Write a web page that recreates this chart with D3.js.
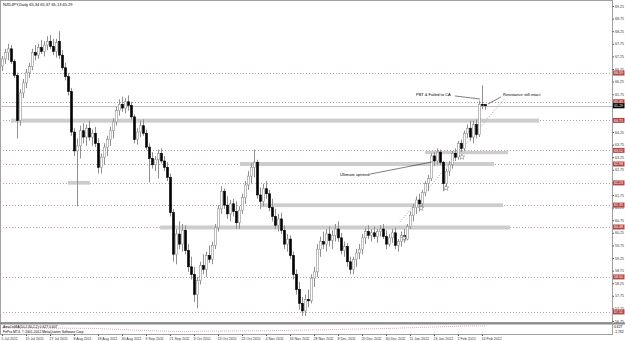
<!DOCTYPE html>
<html>
<head>
<meta charset="utf-8">
<script src="https://cdn.jsdelivr.net/npm/d3@7"></script>
<style>
body { margin: 0; background: #fff; }
svg { display: block; font-family: "Liberation Sans", "DejaVu Sans", sans-serif; }
</style>
</head>
<body>
<div id="vis"></div>
<script>
// NZDJPY daily, one bar per trading day from 5 Jul 2011
const opens = [
  66.87, 67.15, 67.40, 67.55, 67.05, 66.50, 64.70, 65.80, 66.20, 66.60,
  66.85, 67.40, 67.30, 67.60, 67.45, 67.70, 67.85, 67.65, 67.45, 67.85,
  67.30, 66.80, 66.45, 65.85, 64.25, 63.50, 63.70, 64.30, 64.05, 64.40,
  64.05, 64.20, 63.80, 62.85, 63.25, 63.65, 63.95, 64.30, 64.65, 65.10,
  65.35, 65.20, 65.45, 65.30, 64.85, 63.95, 64.25, 64.50, 64.20, 63.65,
  63.20, 62.95, 63.15, 63.40, 63.10, 62.85, 62.45, 61.05, 59.40, 60.20,
  59.80, 60.35, 59.55, 58.90, 58.60, 57.80, 58.35, 58.95, 58.80, 59.35,
  59.20, 59.75, 60.45, 61.20, 61.90, 61.35, 61.00, 61.40, 61.10, 60.65,
  61.15, 61.65, 62.15, 62.50, 62.85, 63.05, 61.75, 61.50, 62.00, 61.80,
  61.25, 60.90, 60.55, 60.80, 60.35, 59.80, 60.00, 59.35, 58.60, 58.00,
  57.45, 57.15, 57.60, 57.55, 58.45, 58.70, 59.60, 59.90, 59.80, 60.20,
  59.95, 60.15, 60.40, 60.05, 59.55, 59.70, 59.10, 58.80, 59.20, 59.45,
  59.60, 60.05, 60.30, 60.15, 60.25, 60.10, 60.30, 60.40, 60.10, 59.80,
  60.05, 60.25, 59.75, 59.90, 60.15, 60.00, 60.50, 60.95, 61.25, 61.55,
  61.40, 61.85, 62.20, 62.40, 63.30, 63.10, 63.45, 63.05, 62.20, 62.70,
  62.95, 63.40, 63.25, 63.80, 63.60, 64.20, 64.40, 64.05, 64.55, 64.15,
  65.35, 65.34
];
const highs = [
  67.27, 67.55, 67.75, 67.70, 67.15, 66.60, 65.95, 66.35, 66.75, 67.00,
  67.55, 67.70, 67.75, 67.90, 67.85, 68.05, 68.10, 67.95, 67.95, 68.25,
  67.50, 67.00, 66.60, 66.00, 64.40, 64.00, 64.50, 64.60, 64.55, 64.70,
  64.35, 64.45, 64.00, 63.40, 63.80, 64.10, 64.45, 64.80, 65.25, 65.55,
  65.65, 65.60, 65.70, 65.45, 64.95, 64.40, 64.70, 64.75, 64.35, 63.80,
  63.45, 63.30, 63.55, 63.60, 63.30, 63.05, 62.60, 61.20, 60.40, 60.70,
  60.60, 60.55, 59.80, 59.30, 58.90, 58.50, 59.10, 59.40, 59.50, 59.75,
  59.90, 60.60, 61.35, 62.10, 62.00, 61.70, 61.55, 61.60, 61.50, 61.30,
  61.80, 62.30, 62.70, 63.00, 63.55, 63.15, 62.05, 62.20, 62.30, 61.95,
  61.60, 61.20, 61.00, 61.05, 60.55, 60.20, 60.15, 59.50, 58.80, 58.30,
  57.70, 57.80, 58.00, 58.60, 58.90, 59.80, 60.10, 60.30, 60.40, 60.50,
  60.35, 60.60, 60.70, 60.25, 59.90, 59.85, 59.30, 59.30, 59.60, 59.80,
  60.20, 60.45, 60.55, 60.40, 60.50, 60.40, 60.55, 60.60, 60.35, 60.20,
  60.40, 60.45, 60.00, 60.30, 60.40, 60.60, 61.10, 61.40, 61.70, 61.80,
  61.95, 62.30, 62.55, 63.40, 63.45, 63.60, 63.55, 63.10, 62.80, 63.10,
  63.50, 63.60, 63.90, 63.95, 64.30, 64.55, 64.70, 64.70, 64.75, 65.50,
  66.10, 65.37
];
const lows = [
  66.67, 66.95, 67.10, 66.95, 66.40, 64.00, 64.50, 65.60, 66.00, 66.40,
  66.70, 67.10, 67.15, 67.35, 67.25, 67.50, 67.55, 67.30, 67.20, 67.15,
  66.70, 66.30, 65.70, 64.10, 63.30, 61.30, 63.20, 63.80, 63.70, 63.90,
  63.70, 63.65, 62.60, 62.60, 62.95, 63.30, 63.70, 64.00, 64.50, 64.90,
  65.05, 65.00, 65.10, 64.75, 63.80, 63.75, 64.05, 64.10, 63.55, 62.25,
  62.80, 62.70, 62.40, 63.00, 62.70, 62.30, 60.90, 59.10, 59.00, 59.60,
  59.50, 59.40, 58.70, 58.40, 57.50, 57.25, 58.20, 58.60, 58.50, 59.05,
  59.00, 59.60, 60.30, 61.00, 61.20, 60.80, 60.70, 60.90, 60.40, 60.40,
  61.00, 61.40, 61.95, 62.20, 62.45, 61.60, 61.20, 61.30, 61.60, 61.10,
  60.70, 60.40, 60.30, 60.20, 59.60, 59.50, 59.20, 58.40, 57.80, 57.20,
  56.95, 56.95, 57.30, 57.45, 58.10, 58.50, 59.30, 59.60, 59.50, 59.70,
  59.60, 59.90, 59.90, 59.40, 59.30, 58.90, 58.60, 58.60, 58.90, 59.20,
  59.40, 59.80, 60.00, 59.90, 60.00, 59.85, 60.10, 60.00, 59.60, 59.70,
  59.85, 59.60, 59.50, 59.70, 59.85, 59.95, 60.40, 60.70, 61.00, 61.10,
  61.25, 61.70, 61.90, 62.30, 62.90, 62.95, 62.95, 61.90, 62.00, 62.50,
  62.80, 63.10, 63.15, 63.45, 63.50, 64.00, 63.90, 63.80, 64.00, 64.05,
  65.15, 65.13
];
const closes = [
  67.15, 67.40, 67.55, 67.05, 66.50, 64.70, 65.80, 66.20, 66.60, 66.85,
  67.40, 67.30, 67.60, 67.45, 67.70, 67.85, 67.65, 67.45, 67.80, 67.30,
  66.80, 66.45, 65.85, 64.25, 63.50, 63.70, 64.30, 64.05, 64.40, 64.05,
  64.20, 63.80, 62.85, 63.25, 63.65, 63.95, 64.30, 64.65, 65.10, 65.35,
  65.20, 65.45, 65.30, 64.85, 63.95, 64.25, 64.50, 64.20, 63.65, 63.20,
  62.95, 63.15, 63.40, 63.10, 62.85, 62.45, 61.05, 59.40, 60.20, 59.80,
  60.35, 59.55, 58.90, 58.60, 57.80, 58.35, 58.95, 58.80, 59.35, 59.20,
  59.75, 60.45, 61.20, 61.90, 61.35, 61.00, 61.40, 61.10, 60.65, 61.15,
  61.65, 62.15, 62.50, 62.85, 63.05, 61.75, 61.50, 62.00, 61.80, 61.25,
  60.90, 60.55, 60.80, 60.35, 59.80, 60.00, 59.35, 58.60, 58.00, 57.45,
  57.15, 57.60, 57.55, 58.45, 58.70, 59.60, 59.90, 59.80, 60.20, 59.95,
  60.15, 60.40, 60.05, 59.55, 59.70, 59.10, 58.80, 59.20, 59.45, 59.60,
  60.05, 60.30, 60.15, 60.25, 60.10, 60.30, 60.40, 60.10, 59.80, 60.05,
  60.25, 59.75, 59.90, 60.15, 60.00, 60.50, 60.95, 61.25, 61.55, 61.40,
  61.85, 62.20, 62.40, 63.30, 63.10, 63.45, 63.05, 62.20, 62.70, 62.95,
  63.40, 63.25, 63.80, 63.60, 64.20, 64.40, 64.05, 64.55, 64.15, 65.35,
  65.30, 65.29
];

// time axis labels, one every 8 bars
const dateLabels = ['5 Jul 2011', '15 Jul 2011', '27 Jul 2011', '8 Aug 2011', '18 Aug 2011',
  '30 Aug 2011', '9 Sep 2011', '21 Sep 2011', '3 Oct 2011', '13 Oct 2011', '25 Oct 2011',
  '4 Nov 2011', '16 Nov 2011', '28 Nov 2011', '8 Dec 2011', '20 Dec 2011', '30 Dec 2011',
  '11 Jan 2012', '23 Jan 2012', '2 Feb 2012', '14 Feb 2012'];
const priceTicks = d3.range(26).map(k => 56.75 + k * 0.5);

// horizontal line objects and the bid
const levels = [66.59, 65.45, 64.71, 63.52, 62.98, 62.23, 61.35, 60.48, 58.50, 57.11];
const bid = 65.29;

// rectangles: [from bar, to bar, top price, bottom price]
const zones = [
  [3, 179, 64.78, 64.62],
  [141, 168.7, 63.50, 63.37],
  [79.3, 164, 63.06, 62.90],
  [86, 167, 61.42, 61.27],
  [52.7, 169.3, 60.54, 60.38],
  [22, 29.3, 62.31, 62.16]
];

// text objects and their pointer lines
const notes = [
  {text: 'PBT & Failed to CA', i: 138, p: 65.68, line: [[151, 65.68], [159.3, 65.56]]},
  {text: 'Resistance still intact', i: 167, p: 65.68, line: [[166.3, 65.64], [162, 65.36]]},
  {text: 'Ultimate uptrend', i: 112.7, p: 62.50, line: [[122.7, 62.58], [143.3, 63.06]]}
];
const trend = [[132.7, 60.69], [167.7, 65.60]];
const stars = [[134, 60.04], [139.7, 61.23], [148, 62.03], [153.3, 63.26]];

// oscillator sub-window
const oscIdx = [0, 15, 30, 45, 60, 70, 80, 90, 100, 115, 130, 145, 155, 161];
const oscVal = [-0.11, -0.2, -0.26, -0.85, -1.29, -1.14, -1.05, -0.99, -0.85, -0.55, -0.26, 0.18, 0.48, 0.48];

const width = 625;
const height = 341;
const axisX = 612;

const svg = d3.select('#vis')
  .append('svg')
  .attr('width', width)
  .attr('height', height);

const x = d3.scaleLinear().domain([0, 161]).range([2, 485]);
const y = d3.scaleLinear().domain([56.75, 69.25]).range([321, 6]);
const yo = d3.scaleLinear().domain([-1.732, 0.627]).range([333, 325.5]);

// frame
svg.append('rect').attr('x', 0.5).attr('y', 0.5).attr('width', axisX).attr('height', 322)
  .attr('fill', 'none').attr('stroke', '#a0a0a0');
svg.append('line').attr('x1', 0).attr('x2', width).attr('y1', 323.5).attr('y2', 323.5)
  .attr('stroke', '#8c8c8c').attr('stroke-width', 2);
svg.append('line').attr('x1', 0).attr('x2', axisX).attr('y1', 334.5).attr('y2', 334.5)
  .attr('stroke', '#a0a0a0');
svg.append('line').attr('x1', 0.5).attr('x2', 0.5).attr('y1', 324).attr('y2', 335)
  .attr('stroke', '#a0a0a0');

// horizontal lines
svg.selectAll('line.level')
  .data(levels)
  .join('line')
  .attr('class', 'level')
  .attr('x1', 0).attr('x2', axisX)
  .attr('y1', d => Math.round(y(d)) + 0.5).attr('y2', d => Math.round(y(d)) + 0.5)
  .attr('stroke', '#c49a9a').attr('stroke-dasharray', '1,2');
svg.append('line')
  .attr('x1', 0).attr('x2', axisX)
  .attr('y1', Math.round(y(bid)) + 0.5).attr('y2', Math.round(y(bid)) + 0.5)
  .attr('stroke', '#c0c0c0');

// rectangles
svg.selectAll('rect.zone')
  .data(zones)
  .join('rect')
  .attr('class', 'zone')
  .attr('x', d => x(d[0]))
  .attr('y', d => y(d[2]))
  .attr('width', d => x(d[1]) - x(d[0]))
  .attr('height', d => y(d[3]) - y(d[2]))
  .attr('fill', '#cdcdcd');

// trend line
svg.append('line')
  .attr('x1', x(trend[0][0])).attr('y1', y(trend[0][1]))
  .attr('x2', x(trend[1][0])).attr('y2', y(trend[1][1]))
  .attr('stroke', '#a8a8a8').attr('stroke-dasharray', '1,1.5');

// candles
const bars = d3.range(closes.length);
svg.selectAll('line.wick')
  .data(bars)
  .join('line')
  .attr('class', 'wick')
  .attr('x1', i => x(i) + 0.5).attr('x2', i => x(i) + 0.5)
  .attr('y1', i => y(highs[i])).attr('y2', i => y(lows[i]))
  .attr('stroke', '#909090');
svg.selectAll('rect.body')
  .data(bars)
  .join('rect')
  .attr('class', 'body')
  .attr('x', i => x(i) - 0.5)
  .attr('y', i => y(Math.max(opens[i], closes[i])))
  .attr('width', 2)
  .attr('height', i => Math.max(1, Math.abs(y(opens[i]) - y(closes[i]))))
  .attr('fill', i => closes[i] >= opens[i] ? '#fff' : '#000')
  .attr('stroke', i => closes[i] >= opens[i] ? '#909090' : '#000')
  .attr('stroke-width', 0.6);

// arrows
svg.selectAll('path.star')
  .data(stars)
  .join('path')
  .attr('class', 'star')
  .attr('d', d3.symbol(d3.symbolStar, 10))
  .attr('transform', d => `translate(${x(d[0])},${y(d[1])})`)
  .attr('fill', '#fff').attr('stroke', '#707070').attr('stroke-width', 0.5);

// text objects
notes.forEach(n => {
  svg.append('line')
    .attr('x1', x(n.line[0][0])).attr('y1', y(n.line[0][1]))
    .attr('x2', x(n.line[1][0])).attr('y2', y(n.line[1][1]))
    .attr('stroke', '#000').attr('stroke-width', 0.5);
  svg.append('text')
    .attr('x', x(n.i)).attr('y', y(n.p))
    .attr('font-size', 4)
    .attr('fill', '#000')
    .text(n.text);
});

// title
svg.append('text').attr('x', 3).attr('y', 6).attr('font-size', 4)
  .text('NZDJPY,Daily  65.34 65.37 65.13 65.29');

// price axis
svg.append('line').attr('x1', axisX + 0.5).attr('x2', axisX + 0.5).attr('y1', 0).attr('y2', 335)
  .attr('stroke', '#a0a0a0');
const yAxis = svg.append('g')
  .attr('transform', `translate(${axisX + 0.5},0)`)
  .call(d3.axisRight(y).tickValues(priceTicks).tickSize(1.5).tickPadding(1).tickFormat(d3.format('.2f')));
yAxis.select('.domain').remove();
yAxis.selectAll('line').attr('stroke', '#555');
yAxis.selectAll('text').attr('font-size', 3.6).attr('fill', '#333')
  .attr('font-family', '"Liberation Sans", sans-serif');

// price labels of lines
const tags = svg.selectAll('g.tag')
  .data(levels.map(p => ({p, c: '#b34848'})).concat([{p: bid, c: '#000'}]))
  .join('g')
  .attr('class', 'tag')
  .attr('transform', d => `translate(${axisX + 1},${y(d.p)})`);
tags.append('rect').attr('x', 0).attr('y', -2.5).attr('width', 11.5).attr('height', 5)
  .attr('fill', d => d.c);
tags.append('text').attr('x', 1).attr('y', 1.3).attr('font-size', 3.6).attr('fill', '#fff')
  .text(d => d3.format('.2f')(d.p));

// oscillator
svg.append('path')
  .datum(oscIdx)
  .attr('d', d3.line().x(i => x(i)).y((i, k) => yo(oscVal[k])))
  .attr('fill', 'none').attr('stroke', '#c07070').attr('stroke-width', 0.6)
  .attr('stroke-dasharray', '1,1');
svg.append('text').attr('x', 3).attr('y', 327.8).attr('font-size', 3.4)
  .text('AmaOsMA(10,2,30,2,2) 0.627 0.607');
svg.append('text').attr('x', 3).attr('y', 332.5).attr('font-size', 3.4)
  .text('FxPro MT4, \u00a9 2001-2012 MetaQuotes Software Corp.');
svg.append('text').attr('x', axisX + 2).attr('y', 327.5).attr('font-size', 3.4).text('0.627');
svg.append('text').attr('x', axisX + 2).attr('y', 333).attr('font-size', 3.4).text('-1.732');

// time axis
const xAxis = svg.append('g')
  .attr('transform', 'translate(0,334.5)')
  .call(d3.axisBottom(x).tickValues(dateLabels.map((d, k) => k * 8)).tickSize(1.5).tickPadding(1)
    .tickFormat((d, k) => dateLabels[k]));
xAxis.select('.domain').remove();
xAxis.selectAll('line').attr('stroke', '#555');
xAxis.selectAll('text').attr('font-size', 3.6).attr('fill', '#333')
  .attr('text-anchor', 'start').attr('dx', -1)
  .attr('font-family', '"Liberation Sans", sans-serif');
</script>
</body>
</html>
